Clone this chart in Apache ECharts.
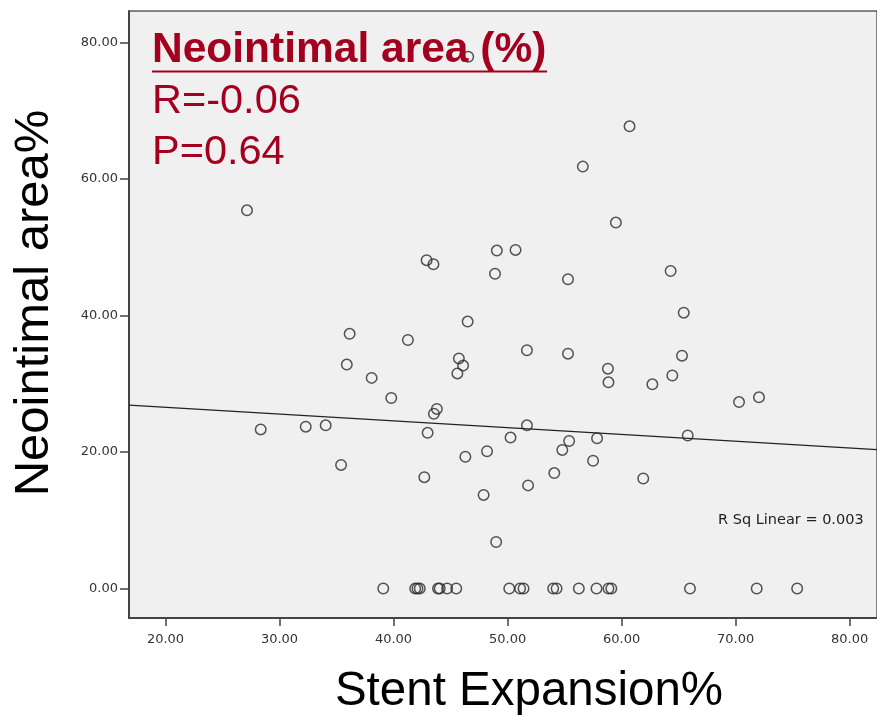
<!DOCTYPE html>
<html>
<head>
<meta charset="utf-8">
<script src="https://cdn.jsdelivr.net/npm/echarts@6/dist/echarts.min.js"></script>
<style>
  html, body { margin: 0; padding: 0; background: #fff; }
  #chart { width: 877px; height: 716px; }
</style>
</head>
<body>
<div id="chart"></div>
<script>
// stent expansion % (x) and neointimal area % (y)
const expansion = [
  27.15, 42.9, 43.5, 46.55, 60.7, 56.6, 59.5, 49.06, 50.7, 48.9,
  55.3, 64.3, 65.45, 46.5, 36.15, 41.26, 35.9, 38.08, 39.8, 43.54,
  43.8, 28.35, 32.3, 34.05, 42.99, 35.4, 42.7, 51.7, 55.3, 45.73,
  46.1, 45.6, 58.8, 58.85, 62.7, 65.3, 64.45, 70.3, 72.05, 51.7,
  50.26, 55.4, 54.8, 57.85, 65.8, 48.2, 46.3, 57.5, 54.1, 61.9,
  51.8, 47.9, 49.0,
  39.1, 41.9, 42.1, 42.3, 43.9, 44.05, 44.7, 45.5, 50.15, 51.1,
  51.4, 54.0, 54.3, 56.25, 57.8, 58.85, 59.1, 66.0, 71.85, 75.4
]
const neoArea = [
  55.4, 48.1, 47.5, 77.9, 67.7, 61.8, 53.6, 49.5, 49.6, 46.1,
  45.3, 46.5, 40.4, 39.1, 37.3, 36.4, 32.8, 30.85, 27.9, 25.6,
  26.3, 23.3, 23.7, 23.9, 22.8, 18.1, 16.3, 34.9, 34.4, 33.7,
  32.65, 31.5, 32.2, 30.2, 29.9, 34.1, 31.2, 27.3, 28.0, 23.9,
  22.1, 21.6, 20.3, 22.0, 22.4, 20.1, 19.3, 18.7, 16.9, 16.1,
  15.1, 13.7, 6.8,
  0, 0, 0, 0, 0, 0, 0, 0, 0, 0,
  0, 0, 0, 0, 0, 0, 0, 0, 0, 0
]

// fit line end points as drawn
const fitX = [16.8, 82.4]
const fitY = [26.85, 20.35]

const xTicks = [20, 30, 40, 50, 60, 70, 80]
const yTicks = [0, 20, 40, 60, 80]

const red = '#a3001f'

const chart = echarts.init(document.getElementById('chart'))

chart.setOption({
  animation: false,
  grid: {
    left: 129, top: 11, right: -2, bottom: 98,
    show: true, backgroundColor: '#f0f0f0', borderColor: '#111', borderWidth: 1
  },
  xAxis: {
    type: 'value', min: 16.8, max: 82.4,
    splitLine: { show: false },
    axisLine: { show: true, onZero: false, lineStyle: { color: '#444', width: 2 } },
    axisTick: { show: true, customValues: xTicks, length: 8, lineStyle: { color: '#444', width: 1.5 } },
    axisLabel: {
      customValues: xTicks, margin: 15,
      fontFamily: 'DejaVu Sans', fontSize: 13, color: '#333',
      formatter: (v) => v.toFixed(2)
    }
  },
  yAxis: {
    type: 'value', min: -4.33, max: 84.6,
    splitLine: { show: false },
    axisLine: { show: true, onZero: false, lineStyle: { color: '#444', width: 2 } },
    axisTick: { show: true, customValues: yTicks, length: 9, lineStyle: { color: '#444', width: 1.5 } },
    axisLabel: {
      customValues: yTicks, margin: 11,
      fontFamily: 'DejaVu Sans', fontSize: 13, color: '#333',
      formatter: (v) => v.toFixed(2)
    }
  },
  series: [
    {
      type: 'scatter',
      data: expansion.map((x, i) => [x, neoArea[i]]),
      symbol: 'circle',
      symbolSize: 10.5,
      itemStyle: { color: 'rgba(0,0,0,0)', borderColor: '#2a2a2a', borderWidth: 1.5 },
      z: 3
    },
    {
      type: 'line',
      data: fitX.map((x, i) => [x, fitY[i]]),
      symbol: 'none',
      lineStyle: { color: '#222', width: 1.2 },
      z: 2
    }
  ],
  graphic: [
    {
      type: 'text', left: 152, top: 29, z: 10,
      style: { text: 'Neointimal area (%)', fill: red, font: 'bold 42.5px "Liberation Sans", Arial' }
    },
    {
      type: 'rect', z: 10,
      shape: { x: 152, y: 70.5, width: 395, height: 2 },
      style: { fill: red }
    },
    {
      type: 'text', left: 152, top: 81, z: 10,
      style: { text: 'R=-0.06', fill: red, font: '41.5px "Liberation Sans", Arial' }
    },
    {
      type: 'text', left: 152, top: 132, z: 10,
      style: { text: 'P=0.64', fill: red, font: '41.5px "Liberation Sans", Arial' }
    },
    {
      type: 'text', left: 718, top: 513, z: 10,
      style: { text: 'R Sq Linear = 0.003', fill: '#222', font: '14.5px "DejaVu Sans"' }
    },
    {
      type: 'text', x: 529, y: 692, z: 10,
      style: {
        text: 'Stent Expansion%', fill: '#000', font: '47.5px "Liberation Sans", Arial',
        align: 'center', verticalAlign: 'middle'
      }
    },
    {
      type: 'text', x: 34, y: 303, rotation: Math.PI / 2, z: 10,
      style: {
        text: 'Neointimal area%', fill: '#000', font: '49px "Liberation Sans", Arial',
        align: 'center', verticalAlign: 'middle'
      }
    }
  ]
})
</script>
</body>
</html>
